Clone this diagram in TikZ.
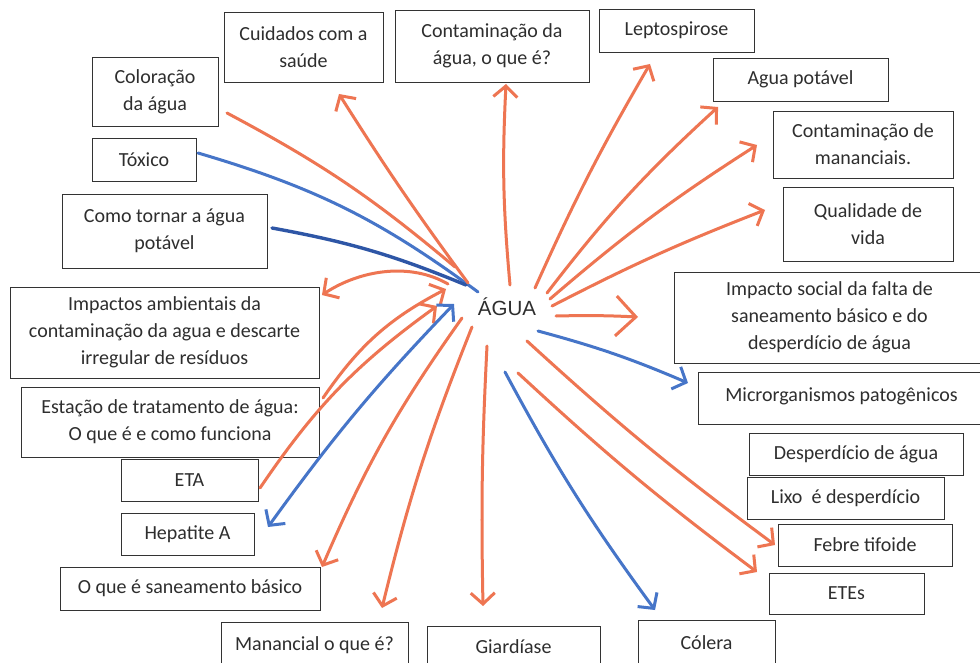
\documentclass[tikz,border=0pt]{standalone}
\usepackage{fontspec}
\setmainfont{Carlito}
\newfontfamily\headfont{Liberation Sans}
\usetikzlibrary{arrows.meta}
\definecolor{penorange}{HTML}{EE7552}
\definecolor{penblue}{HTML}{4675C8}
\definecolor{pendark}{HTML}{2E56A6}
\definecolor{inkgray}{HTML}{2E2E2E}

\begin{document}
\begin{tikzpicture}[x=1pt,y=-1pt,
  box/.style={draw=black!80, line width=0.9pt, align=center, inner sep=0pt,
    font=\fontsize{20}{27}\selectfont, text=inkgray},
  opath/.style={draw=penorange, line width=3pt, line cap=round, line join=round},
  bpath/.style={draw=penblue, line width=3pt, line cap=round, line join=round},
  dpath/.style={draw=pendark, line width=3.4pt, line cap=round, line join=round},
  tip/.style={-{Straight Barb[length=11pt,width=24pt]}},
  bigtip/.style={-{Straight Barb[length=20pt,width=40pt]}},
  twotips/.style={{Straight Barb[length=11pt,width=24pt]}-{Straight Barb[length=11pt,width=24pt]}}]

\useasboundingbox (0,0) rectangle (980,663);
\fill[white] (0,0) rectangle (980,663);

% ---------- centre word ----------
\node[font=\headfont\fontsize{20.5}{24}\selectfont, text=inkgray] (agua) at (507,307) {ÁGUA};

% ---------- boxes, upper row ----------
\node[box, minimum width=159pt, minimum height=70pt] (cuid) at (303.5,47) {Cuidados com a\\saúde};
\node[box, minimum width=194pt, minimum height=72pt] (contag) at (492,46) {Contaminação da\\água, o que é?};
\node[box, minimum width=155pt, minimum height=43pt] (lepto) at (676.5,30.5) {Leptospirose};

% ---------- boxes, right side ----------
\node[box, minimum width=175pt, minimum height=43pt] (potavel) at (800.5,79.5) {Agua potável};
\node[box, minimum width=180pt, minimum height=67pt] (manan) at (863,144.5) {Contaminação de\\mananciais.};
\node[box, minimum width=170pt, minimum height=74pt] (qual) at (868,224) {Qualidade de\\vida};
\node[box, minimum width=311pt, minimum height=91pt] (impsoc) at (829.5,317.5) {Impacto social da falta de\\saneamento básico e do\\desperdício de água};
\node[box, minimum width=287pt, minimum height=52pt] (micro) at (841.5,398) {\raisebox{7pt}{Microrganismos patogênicos}};
\node[box, minimum width=214pt, minimum height=42pt] (desp) at (856,454) {Desperdício de água};
\node[box, minimum width=197pt, minimum height=42pt] (lixo) at (845.5,498) {Lixo\ \ é desperdício};
\node[box, minimum width=174pt, minimum height=42pt] (febre) at (865,545) {Febre tifoide};
\node[box, minimum width=155pt, minimum height=41pt] (etes) at (846.5,593.5) {ETEs};

% ---------- boxes, lower row ----------
\node[box, minimum width=137pt, minimum height=48pt] (colera) at (706.5,644) {\raisebox{3pt}{Cólera}};
\node[box, minimum width=173pt, minimum height=42pt] (giard) at (513.5,647) {Giardíase};
\node[box, minimum width=187pt, minimum height=46pt] (mananq) at (314.5,645) {\raisebox{3pt}{Manancial o que é?}};

% ---------- boxes, left side ----------
\node[box, minimum width=260pt, minimum height=43pt] (saneam) at (190,588.5) {O que é saneamento básico};
\node[box, minimum width=133pt, minimum height=42pt] (hepat) at (187.5,534) {Hepatite A};
\node[box, minimum width=137pt, minimum height=42pt] (eta) at (189.5,480) {ETA};
\node[box, minimum width=298pt, minimum height=70pt] (estacao) at (170,422) {Estação de tratamento de água:\\O que é e como funciona};
\node[box, minimum width=309pt, minimum height=91pt] (impamb) at (164.5,332.5) {Impactos ambientais da\\contaminação da agua e descarte\\irregular de resíduos};
\node[box, minimum width=205pt, minimum height=74pt] (como) at (164.5,231) {Como tornar a água\\potável};
\node[box, minimum width=104pt, minimum height=43pt] (toxico) at (144,159.5) {Tóxico};
\node[box, minimum width=126pt, minimum height=69pt] (color) at (155,91.5) {Coloração\\da água};

% ---------- pen ends around the centre ----------
\coordinate (hub-color)  at (455,267);
\coordinate (hub-toxico) at (478,292);
\coordinate (hub-como)   at (466,285);
\coordinate (hub-cuid)   at (468,283);
\coordinate (hub-contag) at (510,285);
\coordinate (hub-lepto)  at (535,288);
\coordinate (hub-potav)  at (547,293);
\coordinate (hub-manan)  at (550,299);
\coordinate (hub-qual)   at (552,306);
\coordinate (hub-impsoc) at (556,316);
\coordinate (hub-micro)  at (538,331);
\coordinate (hub-febre)  at (527,341);
\coordinate (hub-etes)   at (518,373);
\coordinate (hub-colera) at (505,372);
\coordinate (hub-giard)  at (487,346);
\coordinate (hub-mananq) at (472,327);
\coordinate (hub-saneam) at (462,318);
\coordinate (hub-hepat)  at (454,304);
\coordinate (hub-eta)    at (437,306);
\coordinate (hub-estac)  at (446,289);
\coordinate (hub-impamb) at (448,284);

% ---------- pen ends near the boxes ----------
\coordinate (end-color)  at (227,113);
\coordinate (end-toxico) at (198,153);
\coordinate (end-como)   at (272,228);
\coordinate (end-cuid)   at (339,94);
\coordinate (end-contag) at (506,84);
\coordinate (end-lepto)  at (650,64);
\coordinate (end-potav)  at (718,107);
\coordinate (end-manan)  at (757,145);
\coordinate (end-qual)   at (765,210);
\coordinate (end-impsoc) at (638,317);
\coordinate (end-micro)  at (688,383);
\coordinate (end-febre)  at (775,545);
\coordinate (end-etes)   at (757,572);
\coordinate (end-colera) at (655,610);
\coordinate (end-giard)  at (483,606);
\coordinate (end-mananq) at (382,608);
\coordinate (end-saneam) at (322,567);
\coordinate (end-hepat)  at (268,527);
\coordinate (end-eta)    at (260,488);
\coordinate (end-estac)  at (323,398);
\coordinate (end-impamb) at (322,295);

% ---------- lines drawn towards the centre ----------
\draw[opath] (end-color) to[bend left=6] (hub-color);
\draw[bpath] (end-toxico) to[bend left=10] (hub-toxico);
\draw[dpath] (end-como) to[bend left=6] (hub-como);
\draw[opath, tip] (end-estac) to[bend left=14] (hub-estac);
\draw[opath, tip] (end-eta) to[bend left=10] (hub-eta);

% ---------- arrows from the centre ----------
\draw[opath, tip] (hub-cuid) to[bend left=2] (end-cuid);
\draw[opath, tip] (hub-contag) to[bend left=4] (end-contag);
\draw[opath, tip] (hub-lepto) to[bend left=3] (end-lepto);
\draw[opath, tip] (hub-potav) to[bend left=5] (end-potav);
\draw[opath, tip] (hub-manan) to[bend left=4] (end-manan);
\draw[opath, tip] (hub-qual) to[bend left=3] (end-qual);
\draw[opath, bigtip] (hub-impsoc) to[bend left=2] (end-impsoc);
\draw[bpath, tip] (hub-micro) to[bend left=4] (end-micro);
\draw[opath, tip] (hub-febre) to[bend right=3] (end-febre);
\draw[opath, tip] (hub-etes) to[bend right=3] (end-etes);
\draw[bpath, tip] (hub-colera) to[bend right=4] (end-colera);
\draw[opath, tip] (hub-giard) to[bend right=2] (end-giard);
\draw[opath, tip] (hub-mananq) to[bend right=4] (end-mananq);
\draw[opath, tip] (hub-saneam) to[bend right=6] (end-saneam);
\draw[bpath, twotips] (hub-hepat) to[bend right=4] (end-hepat);
\draw[opath, tip] (hub-impamb) .. controls (410,262) and (360,270) .. (end-impamb);

\end{tikzpicture}
\end{document}
